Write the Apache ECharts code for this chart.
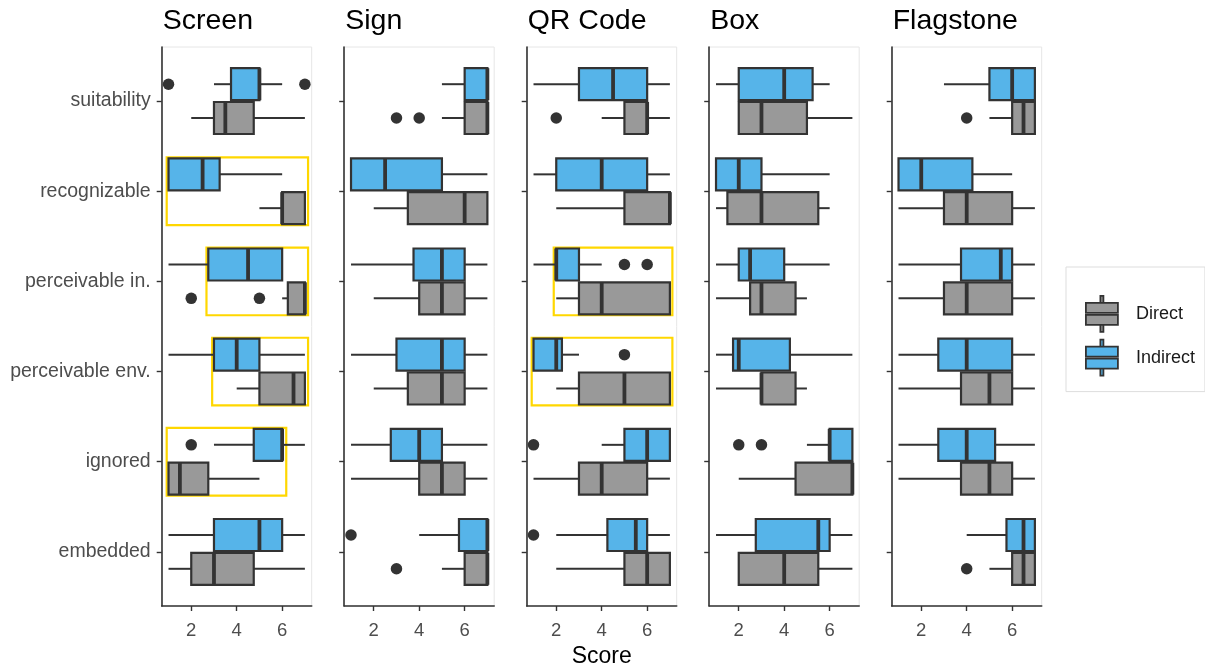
<!DOCTYPE html>
<html>
<head>
<meta charset="utf-8">
<script src="https://cdn.jsdelivr.net/npm/echarts@6/dist/echarts.min.js"></script>
<style>
html,body{margin:0;padding:0;background:#fff;}
#chart{width:1205px;height:663px;}
</style>
</head>
<body>
<div id="chart"></div>
<script>
// ---------------- DATA ----------------
const panels = ['Screen', 'Sign', 'QR Code', 'Box', 'Flagstone'];
// top to bottom as drawn
const categories = ['suitability', 'recognizable', 'perceivable in.', 'perceivable env.', 'ignored', 'embedded'];
const groups = ['Direct', 'Indirect'];
const xTicks = [2, 4, 6];

// five-number summaries [min, q1, median, q3, max], one per category (top to bottom)
const screenIndirect = [[3,3.75,5,5,6],[1,1,2.5,3.25,6],[1,2.75,4.5,6,6],[1,3,4,5,7],[3,4.75,6,6,7],[1,3,5,6,7]];
const screenDirect   = [[2,3,3.5,4.75,7],[5,6,6,7,7],[6,6.25,7,7,7],[4,5,6.5,7,7],[1,1,1.5,2.75,5],[1,2,3,4.75,7]];
const signIndirect   = [[5,6,7,7,7],[1,1,2.5,5,7],[1,3.75,5,6,7],[1,3,5,6,7],[1,2.75,4,5,7],[4,5.75,7,7,7]];
const signDirect     = [[5,6,7,7,7],[2,3.5,6,7,7],[2,4,5,6,7],[2,3.5,5,6,7],[1,4,5,6,7],[5,6,7,7,7]];
const qrIndirect     = [[1,3,4.5,6,7],[1,2,4,6,7],[1,2,2,3,4],[1,1,2,2.25,3],[4,5,6,7,7],[2,4.25,5.5,6,7]];
const qrDirect       = [[4,5,6,6,7],[2,5,7,7,7],[2,3,4,7,7],[2,3,5,7,7],[1,3,4,6,7],[2,5,6,7,7]];
const boxIndirect    = [[1,2,4,5.25,6],[1,1,2,3,6],[1,2,2.5,4,6],[1,1.75,2,4.25,7],[5,6,6,7,7],[1,2.75,5.5,6,7]];
const boxDirect      = [[2,2,3,5,7],[1,1.5,3,5.5,6],[1,2.5,3,4.5,5],[1,3,3,4.5,5],[2,4.5,7,7,7],[2,2,4,5.5,7]];
const flagIndirect   = [[3,5,6,7,7],[1,1,2,4.25,6],[1,3.75,5.5,6,7],[1,2.75,4,6,7],[1,2.75,4,5.25,7],[4,5.75,6.5,7,7]];
const flagDirect     = [[5,6,6.5,7,7],[1,3,4,6,7],[1,3,4,6,7],[1,3.75,5,6,7],[1,3.75,5,6,7],[5,6,6.5,7,7]];

// outliers: [category, value]
const screenIndirectOut = [['suitability',1],['suitability',7],['ignored',2]];
const screenDirectOut   = [['perceivable in.',2],['perceivable in.',5]];
const signIndirectOut   = [['embedded',1]];
const signDirectOut     = [['suitability',3],['suitability',4],['embedded',3]];
const qrIndirectOut     = [['perceivable in.',5],['perceivable in.',6],['perceivable env.',5],['ignored',1],['embedded',1]];
const qrDirectOut       = [['suitability',2]];
const boxIndirectOut    = [['ignored',2],['ignored',3]];
const boxDirectOut      = [];
const flagIndirectOut   = [];
const flagDirectOut     = [['suitability',4],['embedded',4]];

// highlight frames: [panel, category, xFrom, xTo]
const highlights = [
  ['Screen','recognizable',0.92,7.14],
  ['Screen','perceivable in.',2.67,7.14],
  ['Screen','perceivable env.',2.92,7.14],
  ['Screen','ignored',0.92,6.18],
  ['QR Code','perceivable in.',1.89,7.11],
  ['QR Code','perceivable env.',0.92,7.11]
];

// ---------------- STYLE / LAYOUT ----------------
const stats = {Direct:[screenDirect,signDirect,qrDirect,boxDirect,flagDirect],
               Indirect:[screenIndirect,signIndirect,qrIndirect,boxIndirect,flagIndirect]};
const outs = {Direct:[screenDirectOut,signDirectOut,qrDirectOut,boxDirectOut,flagDirectOut],
              Indirect:[screenIndirectOut,signIndirectOut,qrIndirectOut,boxIndirectOut,flagIndirectOut]};
const fills = {Direct:'#999999', Indirect:'#56B4E9'};
const offsets = {Direct:-0.1875, Indirect:0.1875};
const INK = '#333333';
const FONT = 'Liberation Sans, Arial, sans-serif';
const nCat = categories.length;
const yPos = c => nCat - categories.indexOf(c); // top category = 6

const panelLeft0 = 161.7, panelStep = 182.5, panelW = 150, panelTop = 47, panelH = 559;

const grids = [], xAxes = [], yAxes = [], series = [], titles = [];
panels.forEach((p, k) => {
  const left = panelLeft0 + k * panelStep;
  grids.push({left: left, top: panelTop, width: panelW, height: panelH,
              outerBoundsMode: 'none', containLabel: false,
              show: true, borderColor: '#e6e6e6', borderWidth: 1, backgroundColor: '#fff'});
  titles.push({text: p, left: left + 1, top: 7, padding: 0,
               textStyle: {fontFamily: FONT, fontSize: 28.5, fontWeight: 'normal', color: '#000'}});
  xAxes.push({gridIndex: k, type: 'value', min: 0.7, max: 7.3,
    name: k === 2 ? 'Score' : '', nameLocation: 'middle', nameGap: 35,
    nameTextStyle: {fontFamily: FONT, fontSize: 23, color: '#000'},
    axisLine: {show: true, onZero: false, lineStyle: {color: INK, width: 1.6}},
    axisTick: {show: true, length: 5, customValues: xTicks, lineStyle: {color: INK, width: 1.4}},
    axisLabel: {show: true, customValues: xTicks, margin: 15, fontFamily: FONT, fontSize: 18.5, color: '#4d4d4d'},
    splitLine: {show: false}});
  yAxes.push({gridIndex: k, type: 'value', min: 0.4, max: nCat + 0.6,
    axisLine: {show: true, onZero: false, lineStyle: {color: INK, width: 1.6}},
    axisTick: {show: true, length: 5, customValues: [1,2,3,4,5,6], lineStyle: {color: INK, width: 1.4}},
    axisLabel: {show: k === 0, customValues: [1,2,3,4,5,6], margin: 11, fontFamily: FONT, fontSize: 19.5, color: '#4d4d4d',
      formatter: v => categories[nCat - Math.round(v)]},
    splitLine: {show: false}});

  // highlight frames (drawn first, behind boxes)
  const hl = highlights.filter(h => h[0] === p).map(h => [yPos(h[1]), h[2], h[3]]);
  if (hl.length) {
    series.push({type: 'custom', name: 'highlight', xAxisIndex: k, yAxisIndex: k, silent: true, z: 1,
      data: hl,
      renderItem: function (params, api) {
        const y = api.value(0), x0 = api.value(1), x1 = api.value(2);
        const a = api.coord([x0, y + 0.375]);
        const b = api.coord([x1, y - 0.375]);
        return {type: 'rect', shape: {x: a[0], y: a[1], width: b[0] - a[0], height: b[1] - a[1]},
                style: {fill: 'none', stroke: '#FFD700', lineWidth: 2.2}};
      }});
  }

  groups.forEach(g => {
    const data = stats[g][k].map((s, i) => [nCat - i].concat(s));
    const off = offsets[g], fill = fills[g];
    series.push({type: 'custom', name: g, xAxisIndex: k, yAxisIndex: k, z: 3,
      itemStyle: {color: fill, borderColor: INK, borderWidth: 1.5},
      encode: {x: [1,2,3,4,5], y: 0},
      data: data,
      renderItem: function (params, api) {
        const y = api.value(0) + off;
        const mn = api.coord([api.value(1), y]);
        const q1 = api.coord([api.value(2), y]);
        const md = api.coord([api.value(3), y]);
        const q3 = api.coord([api.value(4), y]);
        const mx = api.coord([api.value(5), y]);
        const h = api.size([0, 0.355])[1];
        const top = mn[1] - h / 2;
        const line = (x1, x2, yy) => ({type: 'line', shape: {x1: x1, y1: yy, x2: x2, y2: yy},
                                     style: {stroke: INK, lineWidth: 2}});
        return {type: 'group', children: [
          line(mn[0], q1[0], mn[1]),
          line(q3[0], mx[0], mn[1]),
          {type: 'rect', shape: {x: q1[0], y: top, width: q3[0] - q1[0], height: h},
           style: {fill: fill, stroke: INK, lineWidth: 2.2}},
          {type: 'line', shape: {x1: md[0], y1: top, x2: md[0], y2: top + h},
           style: {stroke: INK, lineWidth: 3.8}}
        ]};
      }});
    series.push({type: 'scatter', name: g + ' outliers', xAxisIndex: k, yAxisIndex: k, z: 4,
      symbol: 'circle', symbolSize: 11.5, itemStyle: {color: INK, opacity: 1},
      data: outs[g][k].map(o => [o[1], yPos(o[0]) + off])});
  });
});

const boxIcon = 'path://M15.5,0h3v7h-3z M1,7h32v10h-32z M1,19h32v10h-32z M15.5,29h3v7h-3z';
const option = {
  backgroundColor: '#ffffff',
  animation: false,
  title: titles,
  grid: grids,
  xAxis: xAxes,
  yAxis: yAxes,
  legend: {
    orient: 'vertical', left: 1066, top: 267,
    padding: [28, 10, 15, 19], itemGap: 6, itemWidth: 34, itemHeight: 36,
    borderColor: '#dddddd', borderWidth: 1,
    icon: boxIcon,
    textStyle: {fontFamily: FONT, fontSize: 18, color: '#1a1a1a', padding: [0, 0, 0, 12]},
    data: [
      {name: 'Direct', itemStyle: {color: fills.Direct, borderColor: INK, borderWidth: 1.8}},
      {name: 'Indirect', itemStyle: {color: fills.Indirect, borderColor: INK, borderWidth: 1.8}}
    ],
    selectedMode: false
  },
  series: series
};
const chart = echarts.init(document.getElementById('chart'), null, {renderer: 'canvas'});
chart.setOption(option);
</script>
</body>
</html>
